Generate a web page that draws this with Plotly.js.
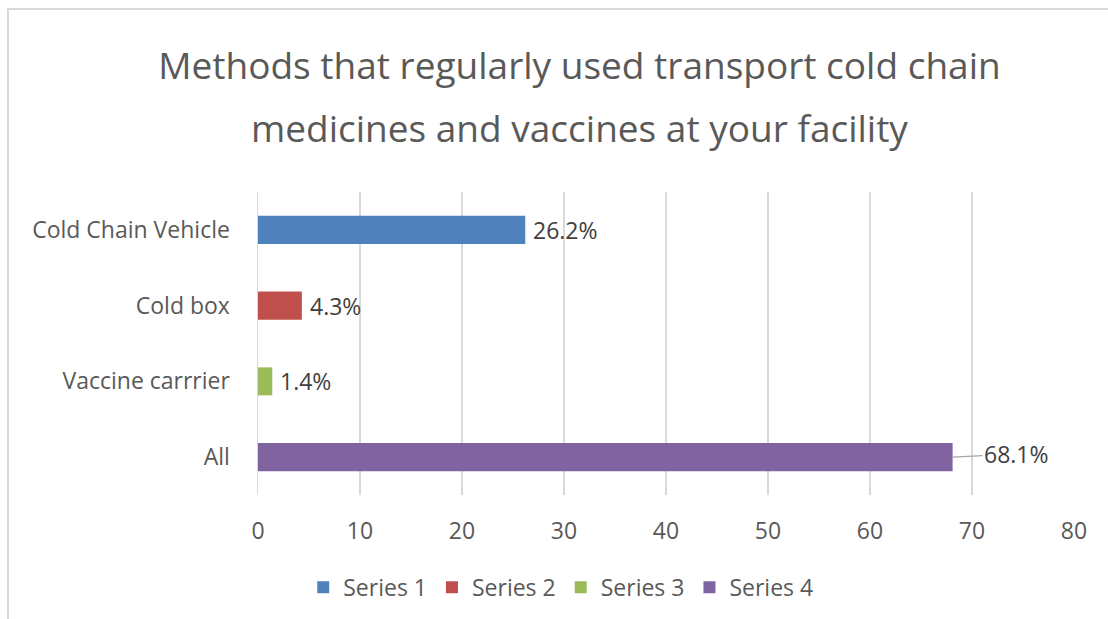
<!DOCTYPE html>
<html>
<head>
<meta charset="utf-8">
<script src="https://cdn.plot.ly/plotly-3.0.1.min.js"></script>
<style>
  html, body { margin: 0; padding: 0; background: #ffffff; overflow: hidden; }
  #frame { position: absolute; left: 7px; top: 8px; width: 1300px; height: 800px; border: 2px solid #d9d9d9; box-sizing: border-box; }
  #chart { position: absolute; left: 0; top: 0; width: 1108px; height: 619px; }
</style>
</head>
<body>
<div id="frame"></div>
<div id="chart"></div>
<script>
const titleLines = ['Methods that regularly used transport cold chain', 'medicines and vaccines at your facility'];
const categories = ['Cold Chain Vehicle', 'Cold box', 'Vaccine carrrier', 'All'];
const values = [26.2, 4.3, 1.4, 68.1];
const seriesNames = ['Series 1', 'Series 2', 'Series 3', 'Series 4'];
const colors = ['#4f81bd', '#c0504d', '#9bbb59', '#8064a2'];
const xTicks = [0, 10, 20, 30, 40, 50, 60, 70, 80];

const FONT = 'Open Sans, Noto Sans, sans-serif';
const GRAY = '#595959';
const FS = 23;

const traces = categories.map((c, i) => ({
  type: 'bar',
  orientation: 'h',
  name: seriesNames[i],
  y: [c],
  x: [values[i]],
  width: 0.37,
  marker: { color: colors[i] },
  hoverinfo: 'x+y'
}));

const annotations = categories.map((c, i) => {
  const last = i === categories.length - 1;
  const a = {
    x: values[i], y: c, xref: 'x', yref: 'y',
    text: values[i].toFixed(1) + '%',
    font: { family: FONT, size: FS, color: '#404040' },
  };
  if (last) {
    Object.assign(a, { showarrow: true, arrowhead: 0, arrowwidth: 1.2, arrowcolor: '#a6a6a6', ax: 64, ay: -3, standoff: 0 });
  } else {
    Object.assign(a, { showarrow: false, xanchor: 'left', xshift: 6 });
  }
  return a;
});

// base size 48 sets the line spacing (1.3em ≈ 63px); glyphs drawn at 37px
const titleText = titleLines.map(t => '<span style="font-size:37px">' + t + '</span>').join('<br>');

const layout = {
  width: 1108, height: 619,
  paper_bgcolor: 'rgba(0,0,0,0)',
  plot_bgcolor: 'rgba(0,0,0,0)',
  margin: { l: 258, r: 34, t: 192, b: 123, pad: 0 },
  title: {
    text: titleText,
    font: { family: FONT, size: 48, color: GRAY },
    x: 0.523, xanchor: 'center',
    y: 0.872, yanchor: 'middle'
  },
  barmode: 'overlay',
  showlegend: true,
  legend: {
    orientation: 'h', x: 0.371, xanchor: 'center', y: -0.30, yanchor: 'middle',
    font: { family: FONT, size: FS, color: GRAY },
    itemwidth: 30, traceorder: 'normal'
  },
  xaxis: {
    range: [0, 80], tickvals: xTicks, ticktext: xTicks.map(String),
    showgrid: true, gridcolor: '#d9d9d9', gridwidth: 1.5,
    zeroline: false, showline: false, ticks: '',
    tickfont: { family: FONT, size: FS, color: GRAY },
    ticklabelstandoff: 20, fixedrange: true
  },
  yaxis: {
    type: 'category', categoryorder: 'array', categoryarray: categories,
    autorange: 'reversed',
    showgrid: false, zeroline: false,
    showline: true, linecolor: '#d9d9d9', linewidth: 1.5,
    ticks: '',
    tickfont: { family: FONT, size: FS, color: GRAY },
    ticklabelstandoff: 22, fixedrange: true
  },
  annotations: annotations
};

Plotly.newPlot('chart', traces, layout, { displayModeBar: false, staticPlot: true });
</script>
</body>
</html>
